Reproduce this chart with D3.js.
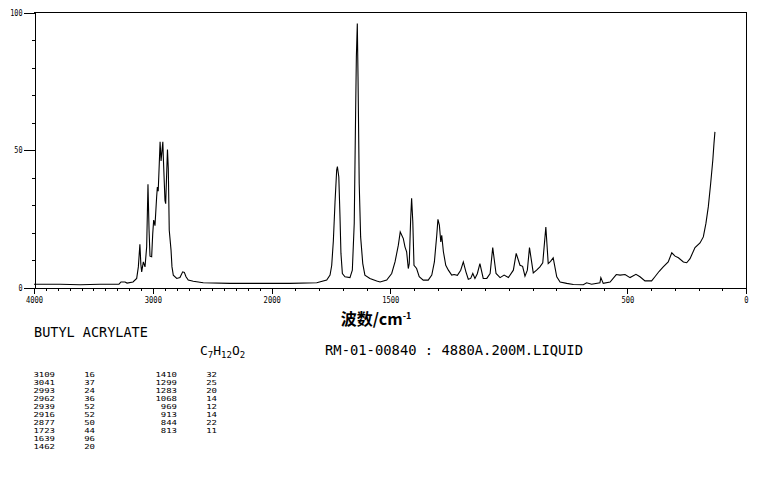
<!DOCTYPE html>
<html>
<head>
<meta charset="utf-8">
<script src="https://cdn.jsdelivr.net/npm/d3@7"></script>
<style>
  html, body { margin: 0; padding: 0; background: #fff; }
  svg { display: block; }
  text { fill: #000; }
</style>
</head>
<body>
<svg id="chart" width="765" height="478"></svg>
<script>
// ---- spectrum: Raman shift (cm-1) and intensity ----
const wavenumbers = [
  4000, 3781, 3613, 3445, 3285, 3268, 3234, 3217, 3167, 3136, 3122, 3109, 3101, 3094, 3080,
  3066, 3052, 3041, 3032, 3024, 3010, 3001, 2993, 2982, 2968, 2962, 2955, 2946, 2939, 2931,
  2916, 2912, 2898, 2892, 2877, 2870, 2862, 2847, 2839, 2828, 2799, 2772, 2749, 2735, 2721,
  2702, 2660, 2576, 2351, 2183, 2000, 1923, 1810, 1768, 1754, 1747, 1740, 1733, 1726, 1723,
  1717, 1712, 1708, 1702, 1691, 1670, 1660, 1652, 1646, 1643, 1639, 1636, 1631, 1625, 1616,
  1607, 1586, 1557, 1543, 1515, 1494, 1480, 1466, 1458, 1445, 1438, 1431, 1424, 1420, 1414,
  1410, 1405, 1400, 1389, 1378, 1361, 1340, 1325, 1314, 1304, 1299, 1293, 1287, 1283, 1276,
  1266, 1255, 1241, 1231, 1217, 1203, 1192, 1181, 1171, 1161, 1152, 1143, 1133, 1122, 1108,
  1093, 1079, 1068, 1054, 1037, 1020, 1002, 981, 969, 953, 942, 932, 922, 913, 897,
  883, 869, 857, 844, 834, 824, 813, 798, 784, 756, 728, 686, 672, 651, 616,
  612, 602, 573, 547, 531, 510, 489, 464, 447, 426, 398, 384, 366, 349, 328,
  313, 299, 285, 264, 250, 236, 215, 194, 180, 169, 159, 149, 140, 135, 131
];
const intensities = [
  1.2, 1.2, 1.0, 1.2, 1.2, 2.0, 2.0, 1.6, 2.0, 3.3, 7.5, 15.7, 8.5, 5.7, 9.3,
  7.5, 14.8, 37.5, 21.0, 11.4, 11.2, 19.6, 24.5, 22.5, 33.0, 36.5, 35.0, 45.0, 53.0, 46.0,
  53.0, 47.5, 31.7, 30.5, 50.2, 43.3, 20.8, 13.6, 7.5, 4.5, 3.3, 3.6, 5.7, 5.5, 3.9,
  2.7, 2.3, 1.7, 1.5, 1.5, 1.5, 1.5, 1.7, 2.7, 4.5, 8.0, 17.0, 31.0, 42.7, 44.0,
  40.2, 25.7, 12.4, 5.1, 3.9, 3.6, 6.3, 23.3, 64.5, 83.9, 96.0, 76.6, 37.8, 18.4, 8.7,
  4.5, 3.3, 2.4, 2.0, 2.7, 5.1, 9.3, 15.4, 20.2, 17.8, 14.8, 13.0, 6.9, 8.7, 25.0,
  32.4, 23.9, 8.1, 6.9, 3.9, 2.7, 2.7, 4.5, 9.3, 19.0, 24.8, 22.7, 16.6, 19.0, 13.0,
  8.1, 6.3, 4.5, 4.7, 4.4, 6.3, 9.3, 5.7, 3.0, 3.3, 5.1, 3.3, 5.0, 8.7, 3.3,
  3.3, 5.1, 14.5, 5.1, 3.6, 4.5, 3.6, 6.3, 12.4, 8.1, 7.7, 4.1, 6.3, 14.5, 5.3,
  6.3, 7.5, 9.0, 22.0, 8.7, 9.5, 10.8, 3.9, 2.0, 1.5, 1.1, 1.0, 1.7, 1.2, 1.7,
  3.6, 1.5, 2.0, 4.7, 4.5, 4.7, 3.6, 4.8, 3.9, 2.4, 2.4, 3.9, 5.9, 7.5, 9.3,
  12.6, 11.4, 10.8, 9.3, 9.0, 10.5, 14.5, 16.2, 18.4, 23.3, 29.3, 37.8, 46.3, 52.4, 56.6
];

// ---- axis ticks and labels ----
const xTickValues = d3.range(0, 4001, 100);
const xLabelValues = [4000, 3000, 2000, 1500, 500, 0];
const yTickValues = d3.range(0, 101, 10);
const yLabelValues = [0, 50, 100];

// ---- peak table ----
const peakWn  = [3109, 3041, 2993, 2962, 2939, 2916, 2877, 1723, 1639, 1462,
                 1410, 1299, 1283, 1068, 969, 913, 844, 813];
const peakInt = [16, 37, 24, 36, 52, 52, 50, 44, 96, 20,
                 32, 25, 20, 14, 12, 14, 22, 11];

const compoundName = "BUTYL ACRYLATE";
const formulaParts = [["C", "7"], ["H", "12"], ["O", "2"]];
const sampleInfo = "RM-01-00840 : 4880A.200M.LIQUID";
const xTitleMain = "波数/cm";
const xTitleSup = "-1";

// ---- drawing ----
const svg = d3.select("#chart");
const pLeft = 34, pRight = 746, pTop = 12.5, pBottom = 287.5;

const x = d3.scaleLinear().domain([4000, 2000, 0]).range([pLeft, 271.7, pRight]);
const y = d3.scaleLinear().domain([0, 100]).range([pBottom, pTop]);

const mono = "'DejaVu Sans Mono', 'Liberation Mono', monospace";

// frame (top & right)
svg.append("line").attr("x1", pLeft).attr("x2", pRight + 0.5).attr("y1", pTop).attr("y2", pTop)
  .attr("stroke", "#000").attr("stroke-width", 1).attr("shape-rendering", "crispEdges");
svg.append("line").attr("x1", pRight + 0.5).attr("x2", pRight + 0.5).attr("y1", pTop).attr("y2", pBottom)
  .attr("stroke", "#000").attr("stroke-width", 1).attr("shape-rendering", "crispEdges");

// x axis
const xAxis = d3.axisBottom(x).tickValues(xTickValues).tickSize(3).tickSizeOuter(0)
  .tickFormat(d => String(d));
const gx = svg.append("g").attr("transform", `translate(0,${pBottom})`).call(xAxis);
gx.selectAll("path, line").attr("stroke", "#000").attr("shape-rendering", "crispEdges");
gx.selectAll(".tick").filter(d => !xLabelValues.includes(d)).select("text").remove();
gx.selectAll(".tick").filter(d => xLabelValues.includes(d)).select("line").attr("y2", 6);
gx.selectAll(".tick text").attr("y", 9).attr("font-family", mono).attr("font-size", 8.5)
  .attr("fill", "#000")
  .each(function(d) { const s = String(d); d3.select(this).attr("textLength", s.length * 4.3).attr("lengthAdjust", "spacingAndGlyphs"); });

// y axis
const yAxis = d3.axisLeft(y).tickValues(yTickValues).tickSize(3).tickSizeOuter(0)
  .tickFormat(d => String(d));
const gy = svg.append("g").attr("transform", `translate(${pLeft + 0.5},0)`).call(yAxis);
gy.selectAll("path, line").attr("stroke", "#000").attr("shape-rendering", "crispEdges");
gy.selectAll(".tick").filter(d => !yLabelValues.includes(d)).select("text").remove();
gy.selectAll(".tick").filter(d => yLabelValues.includes(d)).select("line").attr("x2", -11);
gy.selectAll(".tick text").attr("x", -12).attr("font-family", mono).attr("font-size", 8.5)
  .attr("fill", "#000")
  .each(function(d) { const s = String(d); d3.select(this).attr("textLength", s.length * 4.1).attr("lengthAdjust", "spacingAndGlyphs"); });

// spectrum
const pts = wavenumbers.map((w, i) => ({ w, v: intensities[i] }));
const line = d3.line().x(d => x(d.w)).y(d => y(d.v));
svg.append("path").datum(pts).attr("d", line)
  .attr("fill", "none").attr("stroke", "#000").attr("stroke-width", 1.1)
  .attr("stroke-linejoin", "miter");

// x axis title
const xt = svg.append("text").attr("x", 376).attr("y", 325).attr("text-anchor", "middle")
  .attr("font-family", "'Noto Sans CJK SC', sans-serif").attr("font-size", 16).attr("font-weight", "bold");
xt.append("tspan").text(xTitleMain);
xt.append("tspan").attr("dy", -6).attr("font-size", 9).text(xTitleSup);

// compound name
svg.append("text").attr("x", 34).attr("y", 337).attr("font-family", mono).attr("font-size", 13.5)
  .text(compoundName);

// formula
const ft = svg.append("text").attr("x", 200).attr("y", 355).attr("font-family", mono).attr("font-size", 13);
formulaParts.forEach(([el, n], i) => {
  ft.append("tspan").attr("dy", i === 0 ? 0 : -3).text(el);
  ft.append("tspan").attr("dy", 3).attr("font-size", 9).text(n);
});

// sample info
svg.append("text").attr("x", 325).attr("y", 355).attr("font-family", mono).attr("font-size", 13.5)
  .attr("textLength", 258).attr("lengthAdjust", "spacingAndGlyphs")
  .text(sampleInfo);

// peak table
const rowsPerCol = 10;
const colRight = [[55, 95], [177, 217]];
const tableText = (xx, yy, s) => svg.append("text").attr("x", xx).attr("y", yy)
  .attr("text-anchor", "end").attr("font-family", mono).attr("font-size", 6.8)
  .attr("textLength", s.length * 5.4).attr("lengthAdjust", "spacingAndGlyphs").text(s);
peakWn.forEach((w, i) => {
  const col = Math.floor(i / rowsPerCol), row = i % rowsPerCol;
  const yy = 377.3 + row * 8;
  tableText(colRight[col][0], yy, String(w));
  tableText(colRight[col][1], yy, String(peakInt[i]));
});
</script>
</body>
</html>
